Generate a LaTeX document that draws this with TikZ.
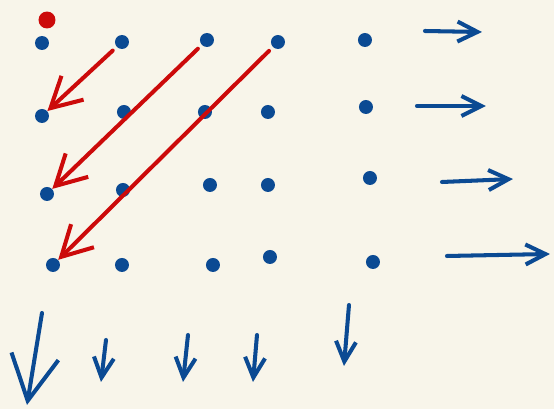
\documentclass[tikz,border=0pt]{standalone}
\usetikzlibrary{arrows.meta}
\definecolor{ink}{HTML}{0B4A93}
\definecolor{redink}{HTML}{CC0A0A}
\definecolor{paper}{HTML}{F8F5EA}

\begin{document}
\begin{tikzpicture}[x=0.02cm, y=-0.02cm,
    dot/.style={circle, fill=ink, inner sep=0pt, minimum size=0.28cm},
    arr/.style={-{Straight Barb[length=0.4cm, width=0.4cm]}, line width=2.3pt,
                ink, line cap=round},
    diag/.style={-{Straight Barb[length=0.6cm, width=0.65cm]}, line width=2.3pt,
                 redink, line cap=round, shorten <=3pt}
  ]
    \fill[paper] (0,0) rectangle (554,409);

    % grid of dots
    \foreach \x/\y/\n in {42/43/11, 122/42/12, 207/40/13, 278/42/14, 365/40/15,
                          42/116/21, 124/112/22, 205/112/23, 268/112/24, 366/107/25,
                          47/194/31, 123/190/32, 210/185/33, 268/185/34, 370/178/35,
                          53/265/41, 122/265/42, 213/265/43, 270/257/44, 373/262/45}
      \node[dot] (d\n) at (\x,\y) {};
    \node[dot, fill=redink, minimum size=0.34cm] (start) at (47,20) {};

    % diagonals
    \draw[diag] (d12) -- (d21);
    \draw[diag] (d13) -- (d31);
    \draw[diag] (d14) -- (d41);

    % rows
    \coordinate (h1a) at (425,31);  \coordinate (h1b) at (482,32);
    \coordinate (h2a) at (417,106); \coordinate (h2b) at (486,106);
    \coordinate (h3a) at (442,182); \coordinate (h3b) at (513,179);
    \coordinate (h4a) at (447,256); \coordinate (h4b) at (550,254);
    \foreach \i in {1,...,4}
      \draw[arr] (h\i a) -- (h\i b);

    % columns
    \coordinate (v1a) at (42,313);  \coordinate (v1b) at (27,405);
    \coordinate (v2a) at (106,340); \coordinate (v2b) at (101,382);
    \coordinate (v3a) at (188,335); \coordinate (v3b) at (183,382);
    \coordinate (v4a) at (257,335); \coordinate (v4b) at (253,382);
    \coordinate (v5a) at (349,305); \coordinate (v5b) at (344,366);
    \draw[arr, -{Straight Barb[length=0.9cm, width=0.95cm]}] (v1a) -- (v1b);
    \foreach \i in {2,...,5}
      \draw[arr] (v\i a) -- (v\i b);
  \end{tikzpicture}
\end{document}
